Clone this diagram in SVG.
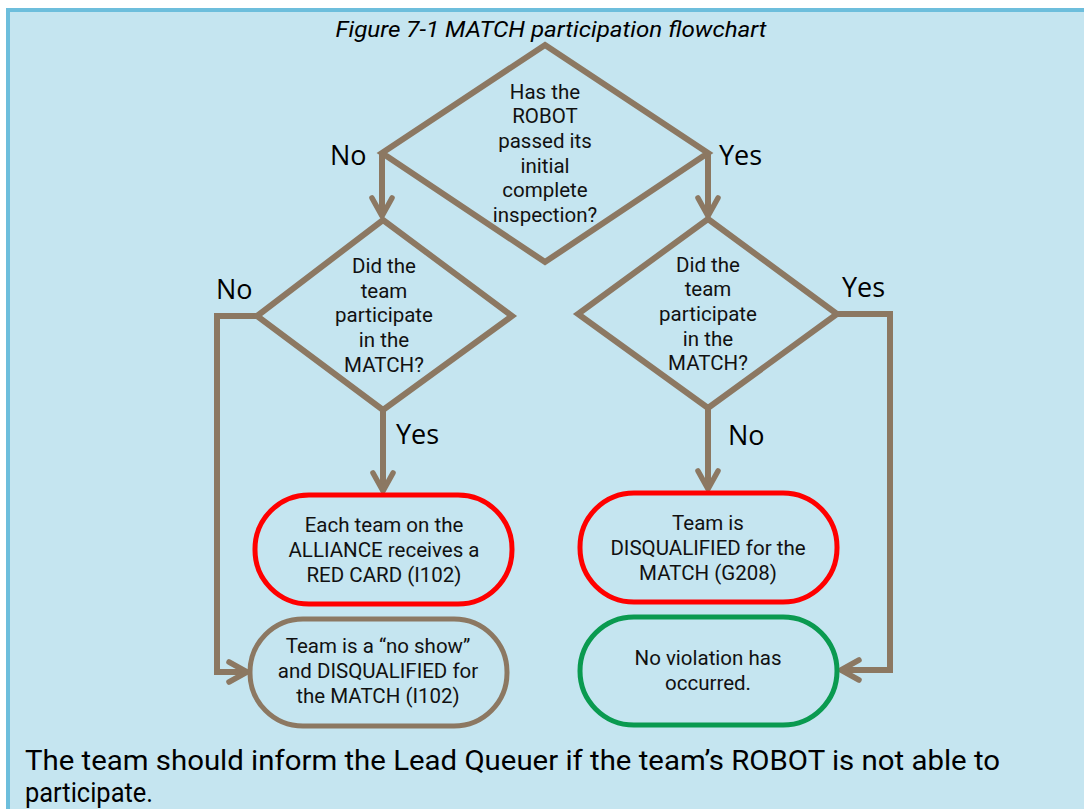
<svg xmlns="http://www.w3.org/2000/svg" width="1084" height="809" viewBox="0 0 1084 809">
<defs>
<style>
.bg{fill:#C5E5F0}
.bd{fill:#6DBEDC}
.dia{fill:none;stroke:#8C7862;stroke-width:6;stroke-linejoin:miter}
.con{fill:none;stroke:#8C7862;stroke-width:6;stroke-linejoin:miter}
.red{fill:none;stroke:#FF0000;stroke-width:5}
.brn{fill:none;stroke:#8C7862;stroke-width:5}
.grn{fill:none;stroke:#0A9A50;stroke-width:5}
.t{font-family:Roboto,"Liberation Sans",sans-serif;font-size:20.5px;fill:#111;text-anchor:middle}
.lbl{font-family:"Open Sans","Noto Sans","Liberation Sans",sans-serif;font-size:27px;fill:#000}
.ttl{font-family:Roboto,"Liberation Sans",sans-serif;font-style:italic;font-size:22.5px;fill:#000;text-anchor:middle}
.foot{font-family:Roboto,"Liberation Sans",sans-serif;font-size:27px;fill:#000}
</style>
<marker id="ah" markerUnits="userSpaceOnUse" markerWidth="30" markerHeight="30" viewBox="-24 -15 30 30" refX="0" refY="0" orient="auto">
<path d="M -18 -10 L 0 0 L -18 10" fill="none" stroke="#8C7862" stroke-width="5.5" stroke-linecap="round" stroke-linejoin="round"/>
</marker>
</defs>
<rect x="0" y="0" width="1084" height="809" fill="#FFFFFF"/>
<rect class="bd" x="6" y="8" width="1078" height="801"/>
<rect class="bg" x="10" y="12" width="1074" height="797"/>
<text class="ttl" x="551" y="37" textLength="431" lengthAdjust="spacingAndGlyphs">Figure 7-1 MATCH participation flowchart</text>

<g id="connectors">
<path class="con" d="M 382 153 L 382 216" marker-end="url(#ah)"/>
<path class="con" d="M 708 153 L 708 216" marker-end="url(#ah)"/>
<path class="con" d="M 383 410 L 383 491" marker-end="url(#ah)"/>
<path class="con" d="M 708 408 L 708 489" marker-end="url(#ah)"/>
<path class="con" d="M 257 316 L 217 316 L 217 672 L 247 672" marker-end="url(#ah)"/>
<path class="con" d="M 837 314 L 890 314 L 890 670 L 841 670" marker-end="url(#ah)"/>
</g>

<g id="labels">
<text class="lbl" x="330" y="165">No</text>
<text class="lbl" x="719" y="165">Yes</text>
<text class="lbl" x="216" y="299">No</text>
<text class="lbl" x="396" y="444">Yes</text>
<text class="lbl" x="842" y="297">Yes</text>
<text class="lbl" x="728" y="445">No</text>
</g>

<g id="q1">
<polygon class="dia" points="545,45 708,153 545,262 382,153"/>
<text class="t" x="545" y="99">Has the</text>
<text class="t" x="545" y="123">ROBOT</text>
<text class="t" x="545" y="148">passed its</text>
<text class="t" x="545" y="173">initial</text>
<text class="t" x="545" y="197">complete</text>
<text class="t" x="545" y="222">inspection?</text>
</g>

<g id="q2">
<polygon class="dia" points="383,220 512,316 383,410 257,316"/>
<text class="t" x="384" y="273">Did the</text>
<text class="t" x="384" y="298">team</text>
<text class="t" x="384" y="322">participate</text>
<text class="t" x="384" y="347">in the</text>
<text class="t" x="384" y="372">MATCH?</text>
</g>

<g id="q3">
<polygon class="dia" points="708,219 837,314 708,408 578,314"/>
<text class="t" x="708" y="272">Did the</text>
<text class="t" x="708" y="296">team</text>
<text class="t" x="708" y="321">participate</text>
<text class="t" x="708" y="346">in the</text>
<text class="t" x="708" y="370">MATCH?</text>
</g>

<g id="redcard">
<rect class="red" x="255" y="495" width="257" height="109" rx="54" ry="54"/>
<text class="t" x="384" y="532">Each team on the</text>
<text class="t" x="384" y="557">ALLIANCE receives a</text>
<text class="t" x="384" y="582">RED CARD (I102)</text>
</g>

<g id="noshow">
<rect class="brn" x="250" y="619" width="257" height="107" rx="53" ry="53"/>
<text class="t" x="378" y="653">Team is a “no show”</text>
<text class="t" x="378" y="678">and DISQUALIFIED for</text>
<text class="t" x="378" y="703">the MATCH (I102)</text>
</g>

<g id="dq">
<rect class="red" x="580" y="493" width="257" height="109" rx="54" ry="54"/>
<text class="t" x="708" y="530">Team is</text>
<text class="t" x="708" y="555">DISQUALIFIED for the</text>
<text class="t" x="708" y="580">MATCH (G208)</text>
</g>

<g id="noviolation">
<rect class="grn" x="580" y="617" width="257" height="108" rx="54" ry="54"/>
<text class="t" x="708" y="665">No violation has</text>
<text class="t" x="708" y="690">occurred.</text>
</g>

<text class="foot" x="25" y="770" textLength="975" lengthAdjust="spacingAndGlyphs">The team should inform the Lead Queuer if the team’s ROBOT is not able to</text>
<text class="foot" x="25" y="802" textLength="128" lengthAdjust="spacingAndGlyphs">participate.</text>
</svg>
